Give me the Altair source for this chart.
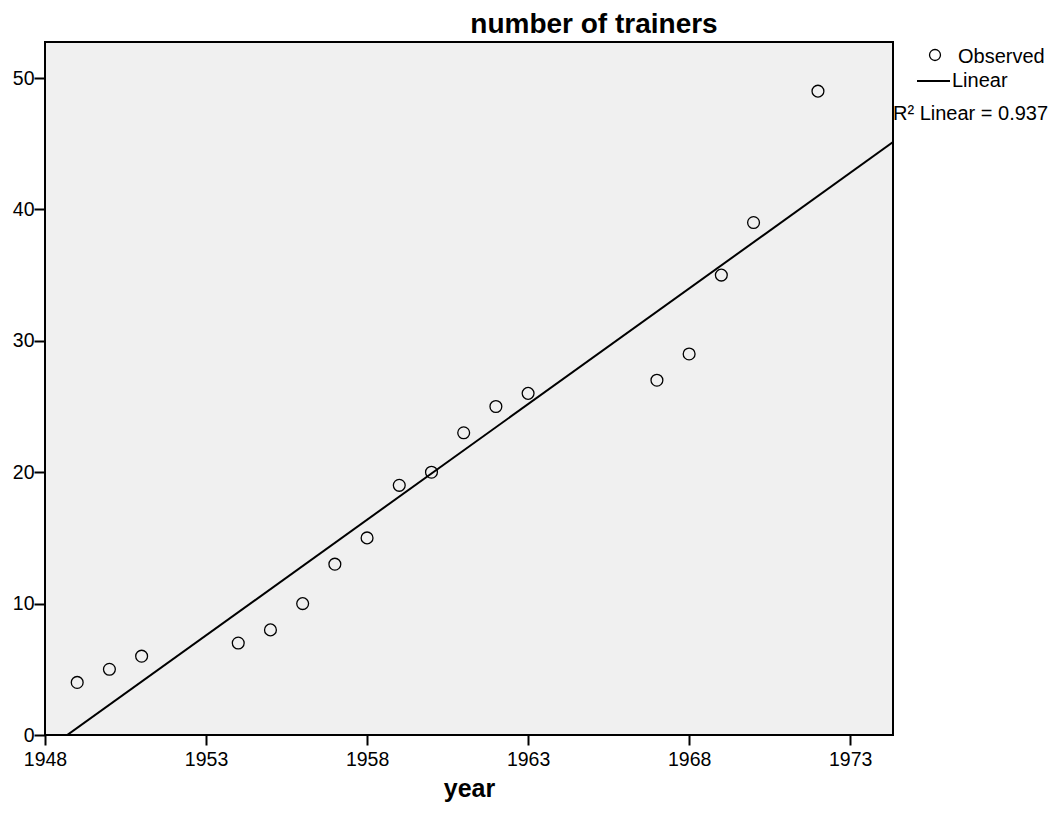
import altair as alt
import pandas as pd

years = [1949, 1950, 1951, 1954, 1955, 1956, 1957, 1958, 1959, 1960, 1961, 1962, 1963, 1967, 1968, 1969, 1970, 1972]
trainers = [4, 5, 6, 7, 8, 10, 13, 15, 19, 20, 23, 25, 26, 27, 29, 35, 39, 49]
x_ticks = [1948, 1953, 1958, 1963, 1968, 1973]
y_ticks = [0, 10, 20, 30, 40, 50]
r2_text = "R\u00b2  Linear = 0.937"

df = pd.DataFrame({"year": years, "trainers": trainers})

FONT = "Liberation Sans"
W, H = 848, 693
xscale = alt.Scale(domain=[1948, 1974.33], nice=False, zero=False)
yscale = alt.Scale(domain=[0, 52.74], nice=False)

xenc = alt.X("year:Q", scale=xscale,
             axis=alt.Axis(values=x_ticks, format="d", title="year", titleFontSize=25, titleFontWeight="bold",
                           titleFont=FONT, titleColor="black", titlePadding=8, labelFont=FONT, labelFontSize=19.5,
                           labelColor="black", tickSize=10, tickColor="black", tickWidth=2, domain=False,
                           grid=False, labelPadding=5, labelFlush=False))
yenc = alt.Y("trainers:Q", scale=yscale,
             axis=alt.Axis(values=y_ticks, title=None, labelFont=FONT, labelFontSize=19.5, labelColor="black",
                           tickSize=11, tickColor="black", tickWidth=2, domain=False, grid=False, labelPadding=0,
                           labelFlush=False))

base = alt.Chart(df)

points = base.mark_point(shape="circle", size=140, color="black", strokeWidth=1.3, filled=False, opacity=1).encode(
    x=xenc, y=yenc)

fit = base.transform_regression("year", "trainers", extent=[1948, 1974.33]).mark_line(
    color="black", strokeWidth=2, clip=True
).encode(x=xenc, y=yenc)

leg_circle = alt.Chart(pd.DataFrame({"a": [0]})).mark_point(
    shape="circle", size=120, color="black", strokeWidth=1.3, filled=False, opacity=1, clip=False
).encode(x=alt.value(890), y=alt.value(13))
leg_line = alt.Chart(pd.DataFrame({"a": [0]})).mark_rule(color="black", strokeWidth=2, clip=False).encode(
    x=alt.value(872), x2=alt.value(905), y=alt.value(39))
leg_texts = alt.Chart(pd.DataFrame({"t": ["Observed", "Linear", r2_text],
                                    "px": [913, 907, 848], "py": [15, 39, 72]})).mark_text(
    align="left", baseline="middle", font=FONT, fontSize=20, color="black", clip=False
).encode(x=alt.X("px:Q", scale=None), y=alt.Y("py:Q", scale=None), text="t:N")

chart = alt.layer(points, fit, leg_circle, leg_line, leg_texts).properties(
    width=W, height=H,
    title=alt.TitleParams("number of trainers", font=FONT, fontSize=28, fontWeight="bold", color="black",
                          anchor="middle", dx=125, offset=3),
    padding={"left": 37, "top": 34, "right": 159, "bottom": 73},
    autosize=alt.AutoSizeParams(type="none"),
    background="white",
).configure_view(fill="#F0F0F0", stroke="black", strokeWidth=2)

chart.save("out.html", embed_options={"renderer": "svg", "actions": False})
